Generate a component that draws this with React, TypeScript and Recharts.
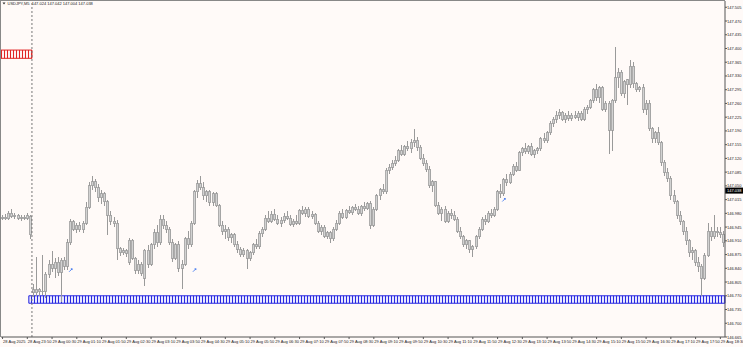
import {
  Bar,
  ComposedChart,
  ReferenceArea,
  ReferenceDot,
  ReferenceLine,
  XAxis,
  YAxis,
} from "recharts";

// USDJPY M5 candles, 28 Aug 23:10 -> 29 Aug 18:35
const OPEN = [
  146.968, 146.970, 146.966, 146.980, 146.972, 146.975, 146.967, 146.970, 146.968, 146.972,
  146.785, 146.778, 146.785, 146.780, 146.782, 146.825, 146.850, 146.840, 146.855, 146.830,
  146.860, 146.845, 146.905, 146.958, 146.940, 146.950, 146.938, 146.955, 146.995, 147.050,
  147.060, 147.045, 147.020, 147.030, 147.010, 146.975, 146.960, 146.955, 146.890, 146.880,
  146.885, 146.855, 146.912, 146.865, 146.835, 146.850, 146.815, 146.886, 146.850, 146.900,
  146.930, 146.905, 146.965, 146.948, 146.940, 146.905, 146.865, 146.900, 146.840, 146.850,
  146.915, 146.900, 146.955, 147.035, 147.055, 147.045, 147.025, 147.035, 147.008, 147.030,
  147.000, 146.950, 146.935, 146.940, 146.918, 146.925, 146.900, 146.888, 146.875, 146.885,
  146.865, 146.880, 146.900, 146.895, 146.928, 146.940, 146.968, 146.960, 146.978, 146.965,
  146.955, 146.962, 146.972, 146.968, 146.952, 146.960, 146.955, 146.988, 146.980, 146.990,
  146.972, 146.978, 146.955, 146.935, 146.945, 146.922, 146.930, 146.915, 146.940, 146.955,
  146.980, 146.970, 146.988, 146.982, 146.995, 146.990, 146.980, 146.998, 146.992, 147.005,
  146.950, 146.990, 147.025, 147.040, 147.035, 147.090, 147.098, 147.108, 147.115, 147.140,
  147.130, 147.150, 147.145, 147.160, 147.165, 147.148, 147.120, 147.108, 147.092, 147.050,
  147.060, 147.000, 146.980, 146.990, 146.960, 146.980, 146.975, 146.965, 146.935, 146.920,
  146.900, 146.910, 146.888, 146.895, 146.920, 146.940, 146.965, 146.958, 146.980, 146.975,
  146.990, 147.035, 147.030, 147.065, 147.058, 147.080, 147.100, 147.090, 147.135, 147.145,
  147.138, 147.150, 147.130, 147.140, 147.145, 147.170, 147.165, 147.185, 147.210, 147.220,
  147.230, 147.238, 147.220, 147.230, 147.222, 147.230, 147.225, 147.235, 147.220, 147.245,
  147.250, 147.268, 147.295, 147.275, 147.300, 147.245, 147.260, 147.192, 147.268, 147.325,
  147.340, 147.285, 147.320, 147.308, 147.355, 147.310, 147.295, 147.300, 147.245, 147.260,
  147.195, 147.170, 147.185, 147.160, 147.110, 147.085, 147.070, 147.025, 147.010, 146.975,
  146.960, 146.935, 146.910, 146.880, 146.885, 146.855, 146.845, 146.815, 146.872, 146.935,
  146.920, 146.935, 146.930, 146.925,
];

const HIGH = [
  146.975, 146.978, 146.985, 146.990, 146.980, 146.978, 146.975, 146.977, 146.982, 146.975,
  146.800, 146.870, 146.790, 146.875, 146.830, 146.860, 146.885, 146.865, 146.870, 146.865,
  146.870, 146.915, 146.965, 146.962, 146.955, 146.958, 146.960, 147.010, 147.060, 147.075,
  147.068, 147.055, 147.040, 147.035, 147.015, 146.985, 146.970, 146.962, 146.895, 146.892,
  146.890, 146.918, 146.915, 146.870, 146.860, 146.855, 146.890, 146.900, 146.905, 146.940,
  146.950, 146.975, 146.975, 146.960, 146.945, 146.915, 146.905, 146.910, 146.860, 146.920,
  146.935, 146.960, 147.040, 147.065, 147.075, 147.060, 147.040, 147.040, 147.035, 147.035,
  147.005, 146.960, 146.950, 146.945, 146.930, 146.930, 146.910, 146.895, 146.892, 146.890,
  146.885, 146.905, 146.915, 146.935, 146.945, 146.975, 146.985, 146.985, 146.990, 146.975,
  146.970, 146.980, 146.985, 146.975, 146.965, 146.975, 146.992, 146.998, 146.995, 146.995,
  146.985, 146.982, 146.960, 146.950, 146.950, 146.935, 146.935, 146.945, 146.962, 146.985,
  146.990, 146.992, 146.998, 147.000, 147.005, 147.000, 147.002, 147.008, 147.010, 147.012,
  146.995, 147.030, 147.045, 147.055, 147.095, 147.105, 147.115, 147.125, 147.145, 147.155,
  147.155, 147.165, 147.170, 147.195, 147.175, 147.155, 147.130, 147.115, 147.100, 147.065,
  147.062, 147.010, 146.995, 146.998, 146.985, 146.990, 146.985, 146.970, 146.945, 146.925,
  146.915, 146.912, 146.900, 146.925, 146.945, 146.970, 146.975, 146.985, 146.990, 146.995,
  147.040, 147.055, 147.070, 147.080, 147.085, 147.105, 147.110, 147.140, 147.150, 147.160,
  147.155, 147.160, 147.145, 147.150, 147.175, 147.185, 147.190, 147.215, 147.225, 147.240,
  147.245, 147.242, 147.235, 147.240, 147.235, 147.240, 147.240, 147.240, 147.250, 147.255,
  147.272, 147.300, 147.310, 147.305, 147.305, 147.265, 147.265, 147.272, 147.405, 147.350,
  147.345, 147.320, 147.322, 147.370, 147.365, 147.315, 147.305, 147.310, 147.270, 147.270,
  147.200, 147.190, 147.200, 147.165, 147.115, 147.095, 147.075, 147.040, 147.015, 146.985,
  146.962, 146.945, 146.915, 146.895, 146.890, 146.870, 146.850, 146.880, 146.955, 146.945,
  146.975, 146.945, 146.945, 146.935,
];

const LOW = [
  146.962, 146.964, 146.963, 146.968, 146.965, 146.962, 146.960, 146.964, 146.962, 146.915,
  146.768, 146.770, 146.770, 146.772, 146.765, 146.815, 146.830, 146.815, 146.820, 146.755,
  146.835, 146.835, 146.900, 146.935, 146.930, 146.932, 146.930, 146.950, 146.990, 147.040,
  147.035, 147.010, 147.005, 147.000, 146.925, 146.950, 146.945, 146.862, 146.872, 146.875,
  146.870, 146.848, 146.860, 146.825, 146.825, 146.820, 146.795, 146.840, 146.845, 146.890,
  146.895, 146.900, 146.940, 146.930, 146.900, 146.855, 146.860, 146.830, 146.788, 146.845,
  146.890, 146.895, 146.950, 147.020, 147.040, 147.015, 147.010, 147.000, 147.000, 146.995,
  146.945, 146.925, 146.915, 146.910, 146.905, 146.895, 146.880, 146.868, 146.870, 146.838,
  146.858, 146.875, 146.890, 146.890, 146.920, 146.935, 146.955, 146.955, 146.960, 146.950,
  146.945, 146.955, 146.962, 146.948, 146.945, 146.950, 146.950, 146.975, 146.970, 146.968,
  146.965, 146.950, 146.930, 146.925, 146.918, 146.915, 146.905, 146.910, 146.935, 146.950,
  146.965, 146.965, 146.978, 146.975, 146.985, 146.975, 146.972, 146.985, 146.988, 146.940,
  146.945, 146.985, 147.015, 147.030, 147.030, 147.080, 147.090, 147.100, 147.110, 147.125,
  147.125, 147.140, 147.135, 147.150, 147.140, 147.115, 147.100, 147.085, 147.045, 147.035,
  146.995, 146.975, 146.960, 146.955, 146.955, 146.965, 146.960, 146.930, 146.915, 146.895,
  146.890, 146.880, 146.870, 146.890, 146.915, 146.935, 146.950, 146.955, 146.968, 146.970,
  146.985, 147.020, 147.025, 147.050, 147.055, 147.075, 147.085, 147.088, 147.125, 147.130,
  147.130, 147.125, 147.120, 147.130, 147.140, 147.160, 147.160, 147.180, 147.200, 147.210,
  147.220, 147.215, 147.210, 147.215, 147.215, 147.220, 147.215, 147.215, 147.215, 147.232,
  147.245, 147.262, 147.265, 147.262, 147.240, 147.238, 147.130, 147.140, 147.262, 147.300,
  147.280, 147.275, 147.255, 147.300, 147.300, 147.290, 147.290, 147.235, 147.230, 147.190,
  147.160, 147.160, 147.155, 147.100, 147.075, 147.060, 147.015, 147.005, 146.965, 146.950,
  146.925, 146.900, 146.870, 146.860, 146.845, 146.830, 146.770, 146.810, 146.868, 146.910,
  146.915, 146.920, 146.918, 146.895,
];

const CLOSE = [
  146.970, 146.966, 146.980, 146.972, 146.975, 146.967, 146.970, 146.968, 146.974, 146.925,
  146.778, 146.785, 146.780, 146.782, 146.825, 146.850, 146.840, 146.855, 146.830, 146.860,
  146.845, 146.905, 146.958, 146.940, 146.950, 146.938, 146.955, 146.995, 147.050, 147.060,
  147.045, 147.020, 147.030, 147.010, 146.975, 146.960, 146.955, 146.890, 146.880, 146.885,
  146.878, 146.912, 146.865, 146.835, 146.850, 146.828, 146.886, 146.850, 146.900, 146.930,
  146.905, 146.965, 146.948, 146.940, 146.905, 146.865, 146.900, 146.840, 146.850, 146.915,
  146.900, 146.955, 147.035, 147.055, 147.045, 147.025, 147.035, 147.008, 147.030, 147.000,
  146.950, 146.935, 146.940, 146.918, 146.925, 146.900, 146.888, 146.875, 146.885, 146.865,
  146.880, 146.900, 146.895, 146.928, 146.940, 146.968, 146.960, 146.978, 146.965, 146.955,
  146.962, 146.972, 146.968, 146.952, 146.960, 146.955, 146.988, 146.980, 146.990, 146.972,
  146.978, 146.955, 146.935, 146.945, 146.922, 146.930, 146.915, 146.940, 146.955, 146.980,
  146.970, 146.988, 146.982, 146.995, 146.990, 146.980, 146.998, 146.992, 147.005, 146.950,
  146.990, 147.025, 147.040, 147.035, 147.090, 147.098, 147.108, 147.115, 147.140, 147.130,
  147.150, 147.145, 147.160, 147.165, 147.148, 147.120, 147.108, 147.092, 147.050, 147.060,
  147.000, 146.980, 146.990, 146.960, 146.980, 146.975, 146.965, 146.935, 146.920, 146.900,
  146.910, 146.888, 146.895, 146.920, 146.940, 146.965, 146.958, 146.980, 146.975, 146.990,
  147.035, 147.030, 147.065, 147.058, 147.080, 147.100, 147.090, 147.135, 147.145, 147.138,
  147.150, 147.130, 147.140, 147.145, 147.170, 147.165, 147.185, 147.210, 147.220, 147.230,
  147.238, 147.220, 147.230, 147.222, 147.230, 147.225, 147.235, 147.220, 147.245, 147.250,
  147.268, 147.295, 147.275, 147.300, 147.245, 147.260, 147.192, 147.268, 147.325, 147.340,
  147.285, 147.315, 147.308, 147.355, 147.310, 147.295, 147.300, 147.245, 147.260, 147.195,
  147.170, 147.185, 147.160, 147.110, 147.085, 147.070, 147.025, 147.010, 146.975, 146.960,
  146.935, 146.910, 146.880, 146.885, 146.855, 146.845, 146.815, 146.872, 146.935, 146.920,
  146.935, 146.930, 146.925, 146.905,
];

// time axis labels every 8 bars (40 min)
const TICK_INDEX = [
  0, 8, 16, 24, 32, 40, 48, 56, 64, 72, 80, 88, 96, 104, 112,
  120, 128, 136, 144, 152, 160, 168, 176, 184, 192, 200, 208, 216, 224, 232,
];
const TICK_TEXT = [
  "28 Aug 2025", "28 Aug 23:50", "29 Aug 00:30", "29 Aug 01:10", "29 Aug 01:50",
  "29 Aug 02:30", "29 Aug 03:10", "29 Aug 03:50", "29 Aug 04:30", "29 Aug 05:10",
  "29 Aug 05:50", "29 Aug 06:30", "29 Aug 07:10", "29 Aug 07:50", "29 Aug 08:30",
  "29 Aug 09:10", "29 Aug 09:50", "29 Aug 10:30", "29 Aug 11:10", "29 Aug 11:50",
  "29 Aug 12:30", "29 Aug 13:10", "29 Aug 13:50", "29 Aug 14:30", "29 Aug 15:10",
  "29 Aug 15:50", "29 Aug 16:30", "29 Aug 17:10", "29 Aug 17:50", "29 Aug 18:30",
];

const PRICE_TICKS = [
  147.505, 147.47, 147.435, 147.4, 147.365, 147.33, 147.295, 147.26, 147.225,
  147.19, 147.155, 147.12, 147.085, 147.05, 147.015, 146.98, 146.945, 146.91,
  146.875, 146.84, 146.805, 146.77, 146.735, 146.7, 146.665,
];

const LAST_PRICE = 147.038;
const TITLE = "USDJPY,M5  147.024 147.042 147.004 147.038";
const DAY_START = 10;

// zones [fromBar, low, high]
const RED_ZONE = [0, 147.375, 147.396];
const BLUE_ZONE = [9, 146.751, 146.77];

// small trade arrows
const MARK_INDEX = [22, 62, 162];
const MARK_PRICE = [146.835, 146.835, 147.014];

const FONT = "'Liberation Sans', Arial, sans-serif";
const BG = "#fffaf8";

const data = OPEN.map((o, i) => ({
  i,
  o,
  h: HIGH[i],
  l: LOW[i],
  c: CLOSE[i],
  range: [LOW[i], HIGH[i]],
}));

const Candle = (props: any) => {
  const { x, y, width, height, payload } = props;
  const top = Math.min(y, y + height);
  const h = Math.abs(height);
  const span = payload.h - payload.l;
  const py = (p: number) => (span > 0 ? top + ((payload.h - p) / span) * h : top);
  const cx = Math.floor(x + width / 2) + 0.5;
  const bTop = Math.min(py(payload.o), py(payload.c));
  const bBot = Math.max(py(payload.o), py(payload.c));
  return (
    <g shapeRendering="crispEdges">
      <line x1={cx} x2={cx} y1={top} y2={top + h} stroke="#9a9a9a" strokeWidth={1} />
      <rect
        x={cx - 1}
        y={bTop}
        width={2}
        height={Math.max(bBot - bTop, 0.8)}
        fill="#d2d2d2"
        stroke="#9a9a9a"
        strokeWidth={0.8}
      />
    </g>
  );
};

const TimeTick = ({ x, y, payload }: any) => {
  const k = TICK_INDEX.indexOf(payload.value);
  return (
    <text x={x + 0.5} y={y + 3.5} fontSize={4} fontFamily={FONT} fill="#222" textAnchor="start">
      {TICK_TEXT[k]}
    </text>
  );
};

const PriceTick = ({ x, y, payload }: any) => (
  <text x={x} y={y + 1.5} fontSize={4} fontFamily={FONT} fill="#222" textAnchor="start">
    {Number(payload.value).toFixed(3)}
  </text>
);

const PriceLabel = ({ viewBox }: any) => {
  const { x, y, width } = viewBox;
  return (
    <g>
      <rect x={x + width} y={y - 3} width={18} height={6} fill="#000" />
      <text x={x + width + 2} y={y + 1.5} fontSize={4} fontFamily={FONT} fill="#fff">
        {LAST_PRICE.toFixed(3)}
      </text>
    </g>
  );
};

const Arrow = ({ cx, cy }: any) => (
  <path d={`M${cx - 1.5},${cy + 1.5} L${cx + 1.5},${cy - 1.5} M${cx + 0.2},${cy - 1.5} L${cx + 1.5},${cy - 1.5} L${cx + 1.5},${cy - 0.2}`} stroke="#2f6cf0" strokeWidth={0.8} fill="none" />
);

export default function App() {
  return (
    <div style={{ position: "absolute", left: 0, top: 0, width: 743, height: 347, background: BG }}>
      <ComposedChart
        width={743}
        height={347}
        data={data}
        margin={{ top: 1, right: 0, bottom: 0, left: 1 }}
        barCategoryGap="20%"
      >
        <defs>
          <pattern id="redStripes" width="3" height="12" patternUnits="userSpaceOnUse">
            <rect width="3" height="12" fill="#fff2f2" />
            <line x1="1.5" y1="0" x2="1.5" y2="12" stroke="#e02424" strokeWidth="1" />
          </pattern>
          <pattern id="blueStripes" width="3" height="12" patternUnits="userSpaceOnUse">
            <rect width="3" height="12" fill="#e8e8ff" />
            <line x1="1.5" y1="0" x2="1.5" y2="12" stroke="#2828e0" strokeWidth="1" />
          </pattern>
        </defs>
        <XAxis
          dataKey="i"
          type="category"
          ticks={TICK_INDEX}
          interval={0}
          height={10}
          tickSize={2}
          tickMargin={0}
          tick={<TimeTick />}
          tickLine={{ stroke: "#555" }}
          axisLine={{ stroke: "#555" }}
        />
        <YAxis
          orientation="right"
          type="number"
          domain={[146.665, 147.521]}
          allowDataOverflow
          ticks={PRICE_TICKS}
          interval={0}
          width={18}
          tickSize={2}
          tickMargin={0}
          tick={<PriceTick />}
          tickLine={{ stroke: "#555" }}
          axisLine={{ stroke: "#555" }}
        />
        <ReferenceLine x={DAY_START} position="start" stroke="#777" strokeDasharray="2 2" />
        <ReferenceArea
          x1={RED_ZONE[0]}
          x2={DAY_START - 1}
          y1={RED_ZONE[1]}
          y2={RED_ZONE[2]}
          fill="url(#redStripes)"
          fillOpacity={1}
          stroke="#e02424"
          strokeWidth={1}
        />
        <ReferenceArea
          x1={BLUE_ZONE[0]}
          y1={BLUE_ZONE[1]}
          y2={BLUE_ZONE[2]}
          fill="url(#blueStripes)"
          fillOpacity={1}
          stroke="#2828e0"
          strokeWidth={1}
        />
        <Bar dataKey="range" shape={<Candle />} isAnimationActive={false} />
        {MARK_INDEX.map((m, k) => (
          <ReferenceDot key={m} x={m} y={MARK_PRICE[k]} r={2} shape={<Arrow />} />
        ))}
        <ReferenceLine y={LAST_PRICE} stroke="none" label={<PriceLabel />} />
      </ComposedChart>
      <svg
        width={743}
        height={347}
        style={{ position: "absolute", left: 0, top: 0, pointerEvents: "none" }}
      >
        <line x1={0.5} y1={0} x2={0.5} y2={337} stroke="#888" />
        <line x1={0} y1={0.5} x2={725} y2={0.5} stroke="#888" />
        <path d="M2.5,2.5 L5.5,2.5 L4,4.5 Z" fill="#333" />
        <text x={7.5} y={5} fontSize={4} fontFamily={FONT} fill="#222" style={{ whiteSpace: "pre" }}>
          {TITLE}
        </text>
      </svg>
    </div>
  );
}
